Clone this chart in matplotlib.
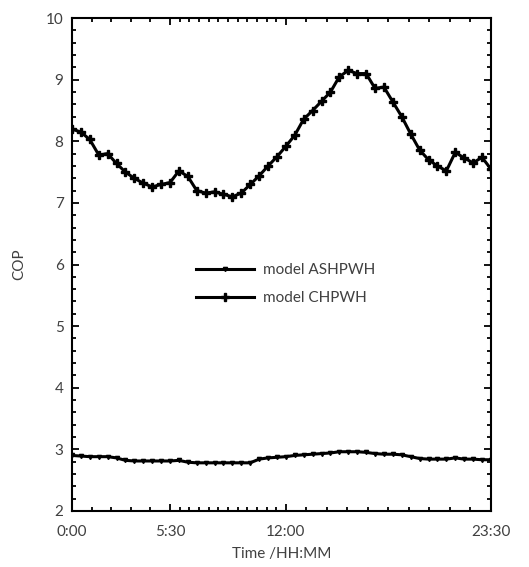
import numpy as np
import matplotlib.pyplot as plt

plt.rcParams['font.family'] = ['Lato', 'DejaVu Sans']

# time in hours, every 30 min from 0:00 to 23:30
hours = np.arange(48) * 0.5

cop_chpwh = [8.20, 8.15, 8.03, 7.78, 7.80, 7.64, 7.50, 7.40, 7.32, 7.26,
             7.30, 7.33, 7.52, 7.43, 7.20, 7.16, 7.18, 7.14, 7.10, 7.16,
             7.30, 7.44, 7.60, 7.75, 7.92, 8.10, 8.36, 8.50, 8.65, 8.80,
             9.05, 9.15, 9.10, 9.10, 8.86, 8.88, 8.64, 8.40, 8.12, 7.86,
             7.70, 7.60, 7.52, 7.82, 7.73, 7.65, 7.74, 7.55]

cop_ashpwh = [2.90, 2.89, 2.88, 2.88, 2.88, 2.86, 2.82, 2.81, 2.81, 2.81,
              2.81, 2.81, 2.82, 2.79, 2.78, 2.78, 2.78, 2.78, 2.78, 2.78,
              2.78, 2.84, 2.86, 2.87, 2.88, 2.90, 2.91, 2.92, 2.93, 2.94,
              2.96, 2.96, 2.96, 2.95, 2.93, 2.92, 2.92, 2.91, 2.88, 2.85,
              2.84, 2.84, 2.84, 2.86, 2.84, 2.84, 2.83, 2.83]

xtick_pos = [0, 5.5, 12, 23.5]
xtick_labels = ['0:00', '5:30', '12:00', '23:30']

grey = '#404040'

fig = plt.figure(figsize=(5.29, 5.67), dpi=100)
ax = fig.add_axes([0.136, 0.099, 0.792, 0.869])

ax.plot(hours, cop_ashpwh, color='k', lw=2.2, marker='v', ms=3,
        label='model ASHPWH')
ax.plot(hours, cop_chpwh, color='k', lw=2.2, marker='P', ms=6,
        label='model CHPWH')

ax.set_xlim(0, 23.5)
ax.set_ylim(2, 10)
ax.set_xticks(xtick_pos)
ax.set_xticklabels(xtick_labels)
minor_x = list(np.linspace(0, 5.5, 6)[1:-1]) + list(np.linspace(5.5, 12, 13)[1:-1]) \
    + list(np.linspace(12, 23.5, 11)[1:-1])
ax.set_xticks(minor_x, minor=True)
ax.set_yticks(range(2, 11))
ax.set_yticks(np.arange(2, 10.01, 0.2), minor=True)

ax.tick_params(which='both', direction='in', top=True, right=True,
               labelsize=11, labelcolor=grey, color='k')
ax.tick_params(which='major', length=5, width=1.3)
ax.tick_params(which='minor', length=3, width=1.3)
ax.tick_params(axis='x', pad=10)
ax.tick_params(axis='y', pad=6)
for s in ax.spines.values():
    s.set_linewidth(1.5)

ax.set_xlabel('Time /HH:MM', fontsize=11, color=grey, labelpad=6)
ax.set_ylabel('COP', fontsize=11, color=grey, labelpad=14)

ax.legend(loc='upper left', bbox_to_anchor=(0.345, 0.56),
          bbox_transform=fig.transFigure, frameon=False, fontsize=11,
          handlelength=3.8, handletextpad=0.6, labelspacing=0.9,
          labelcolor=grey)

fig.savefig('out.png', dpi=100)
